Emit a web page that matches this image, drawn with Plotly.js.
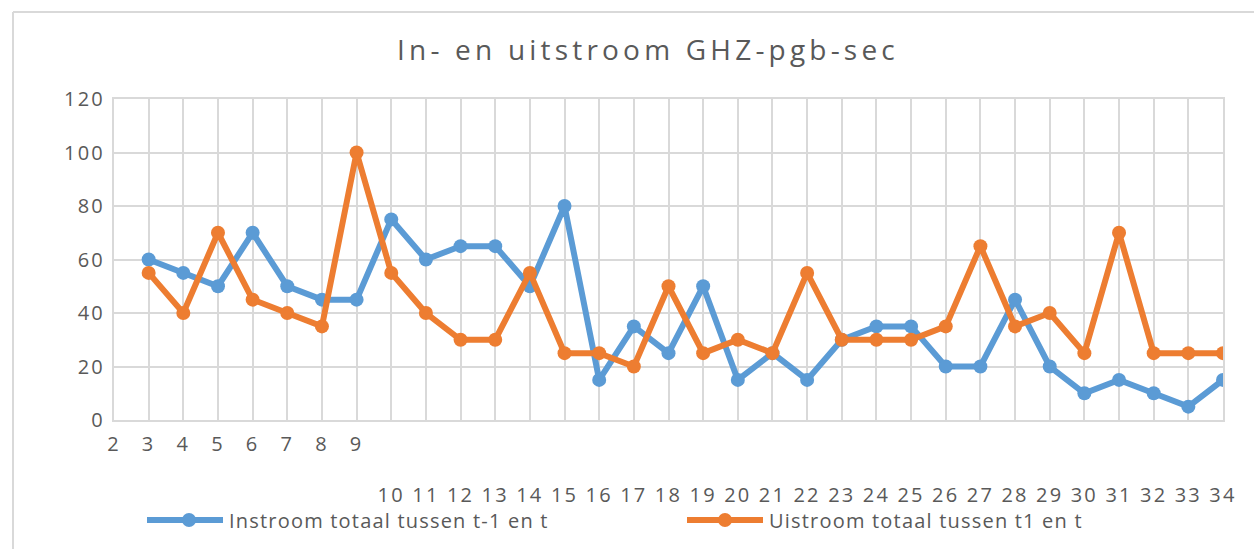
<!DOCTYPE html>
<html>
<head>
<meta charset="utf-8">
<script src="https://cdn.plot.ly/plotly-3.0.1.min.js"></script>
<style>
  html, body { margin: 0; padding: 0; background: #fff; }
  #chart { width: 1254px; height: 549px; }
  text.gtitle { letter-spacing: 4.2px; }
  g.xtick text, g.x2tick text, g.ytick text { letter-spacing: 2.2px; }
  text.annotation-text { letter-spacing: 1.2px; }
</style>
</head>
<body>
<div id="chart"></div>
<script>
// ---- data ----
const periods = [2, 3, 4, 5, 6, 7, 8, 9, 10, 11, 12, 13, 14, 15, 16, 17, 18, 19, 20, 21, 22, 23, 24, 25, 26, 27, 28, 29, 30, 31, 32, 33, 34];
const tickLabels = ['2','3','4','5','6','7','8','9','10','11','12','13','14','15','16','17','18','19','20','21','22','23','24','25','26','27','28','29','30','31','32','33','34'];
const instroom = [null, 60, 55, 50, 70, 50, 45, 45, 75, 60, 65, 65, 50, 80, 15, 35, 25, 50, 15, 25, 15, 30, 35, 35, 20, 20, 45, 20, 10, 15, 10, 5, 15];
const uitstroom = [null, 55, 40, 70, 45, 40, 35, 100, 55, 40, 30, 30, 55, 25, 25, 20, 50, 25, 30, 25, 55, 30, 30, 30, 35, 65, 35, 40, 25, 70, 25, 25, 25];
const seriesNames = ['Instroom totaal tussen t-1 en t', 'Uistroom totaal tussen t1 en t'];
const chartTitle = 'In- en uitstroom GHZ-pgb-sec';
const yTicks = [0, 20, 40, 60, 80, 100, 120];

// ---- style ----
const colors = ['#5B9BD5', '#ED7D31'];
const textColor = '#595959';
const gridColor = '#D9D9D9';
const FONT = '"Open Sans", "DejaVu Sans", sans-serif';

// pixel -> paper helpers (plot area 114..1223 x, 99..420 y)
const L = 114, R = 1223, T = 99, B = 420;
const px = v => (v - L) / (R - L);
const py = v => (B - v) / (B - T);

const traces = [instroom, uitstroom].map((vals, i) => ({
  type: 'scatter', mode: 'lines+markers',
  x: periods, y: vals, name: seriesNames[i],
  line: { color: colors[i], width: 6 },
  marker: { color: colors[i], size: 14 },
  connectgaps: false,
  xaxis: 'x', yaxis: 'y',
  showlegend: false,
  hoverinfo: 'x+y+name'
}));

// second x axis only carries the lower row of labels (10..34)
const lowerIdx = periods.map((p, i) => i).filter(i => periods[i] >= 10);
traces.push({
  type: 'scatter', mode: 'markers', x: [periods[0]], y: [null],
  xaxis: 'x2', yaxis: 'y', showlegend: false, hoverinfo: 'skip'
});

// custom legend (line + dot + label), built from series names/colors
const shapes = [
  { type: 'line', xref: 'paper', yref: 'paper', x0: px(13), x1: px(1260), y0: py(12), y1: py(12), line: { color: gridColor, width: 2 } },
  { type: 'line', xref: 'paper', yref: 'paper', x0: px(13), x1: px(13), y0: py(12), y1: py(560), line: { color: gridColor, width: 2 } }
];
const annotations = [];
const legendItems = [
  { x0: 147, x1: 223, dot: 189, text: 227 },
  { x0: 687, x1: 763, dot: 725, text: 767 }
];
const legY = 520;
legendItems.forEach((it, i) => {
  shapes.push({ type: 'line', xref: 'paper', yref: 'paper', x0: px(it.x0), x1: px(it.x1), y0: py(legY), y1: py(legY),
    line: { color: colors[i], width: 6 } });
  shapes.push({ type: 'circle', xref: 'paper', yref: 'paper', xsizemode: 'pixel', ysizemode: 'pixel',
    xanchor: px(it.dot), yanchor: py(legY), x0: -7, x1: 7, y0: -7, y1: 7,
    fillcolor: colors[i], line: { color: colors[i], width: 0 } });
  annotations.push({ xref: 'paper', yref: 'paper', x: px(it.text), y: py(legY), xanchor: 'left', yanchor: 'middle',
    text: seriesNames[i], showarrow: false, font: { family: FONT, size: 20, color: textColor } });
});

const layout = {
  width: 1254, height: 549,
  margin: { l: L, r: 1254 - R, t: T, b: 549 - B, pad: 0 },
  paper_bgcolor: '#ffffff', plot_bgcolor: '#ffffff',
  font: { family: FONT, color: textColor },
  title: {
    text: chartTitle, font: { family: FONT, size: 28, color: textColor },
    xref: 'container', yref: 'container', x: 648 / 1254, y: 1 - 50 / 549,
    xanchor: 'center', yanchor: 'middle'
  },
  showlegend: false,
  xaxis: {
    type: 'linear', range: [periods[0], periods[periods.length - 1]],
    tickmode: 'array', tickvals: periods,
    ticktext: tickLabels.map((t, i) => periods[i] < 10 ? t : ''),
    showgrid: true, gridcolor: gridColor, gridwidth: 2,
    showline: true, linecolor: gridColor, linewidth: 2, mirror: true,
    zeroline: false, ticks: '', ticklabelstandoff: 5,
    tickfont: { family: FONT, size: 20, color: textColor },
    automargin: false, fixedrange: true
  },
  xaxis2: {
    type: 'linear', overlaying: 'x', anchor: 'y', side: 'bottom',
    range: [periods[0], periods[periods.length - 1]],
    tickmode: 'array', tickvals: lowerIdx.map(i => periods[i]), ticktext: lowerIdx.map(i => tickLabels[i]),
    showgrid: false, showline: false, zeroline: false, ticks: '',
    ticklabelstandoff: 61,
    tickfont: { family: FONT, size: 20, color: textColor },
    automargin: false, fixedrange: true
  },
  yaxis: {
    range: [0, 120], tickmode: 'array', tickvals: yTicks, ticktext: yTicks.map(String),
    showgrid: true, gridcolor: gridColor, gridwidth: 2,
    showline: true, linecolor: gridColor, linewidth: 2, mirror: true,
    zeroline: false, ticks: '', ticklabelstandoff: 3,
    tickfont: { family: FONT, size: 20, color: textColor },
    automargin: false, fixedrange: true
  },
  shapes: shapes,
  annotations: annotations
};

Plotly.newPlot('chart', traces, layout, { displayModeBar: false, staticPlot: true });
</script>
</body>
</html>
